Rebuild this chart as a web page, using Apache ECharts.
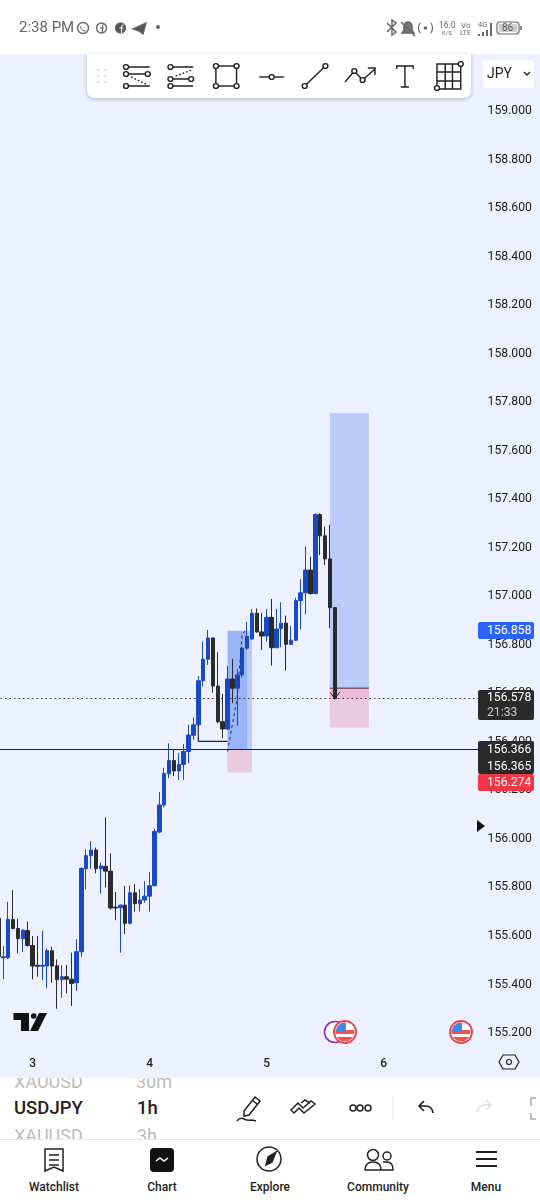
<!DOCTYPE html>
<html><head><meta charset="utf-8">
<style>
html,body{margin:0;padding:0;background:#fff;width:540px;height:1200px;overflow:hidden;font-family:Roboto,sans-serif}
.a{position:absolute}
.t{position:absolute;white-space:nowrap;line-height:1}
#pane{left:0;top:54px;width:540px;height:1024px;background:#edf0fe}
#chart{left:0;top:0;width:540px;height:1200px}
.tag{position:absolute;left:478px;width:47px;padding-left:9px;color:#fff;font-size:12.2px;border-radius:2px}
.nav{position:absolute;top:1181px;font-size:12px;color:#222;font-weight:500;width:70px;text-align:center;line-height:1}
</style></head><body>
<div id="pane" class="a"></div>
<div id="chart" class="a"></div>

<!-- status bar -->
<div class="t" style="left:19px;top:20px;font-size:15px;color:#666">2:38 PM</div>
<svg class="a" style="left:0;top:0" width="540" height="54" fill="none" stroke="#666" stroke-width="1.4">
 <circle cx="83" cy="28" r="5.500"/><path d="M80 26q1 5 6 5" stroke-width="1"/>
 <circle cx="101.500" cy="28" r="5"/><path d="M102.500 33v-7q0-2 2-2M100 28h4" stroke-width="1"/>
 <circle cx="120.500" cy="28" r="5" fill="#555"/><path d="M121.500 33v-6q0-2 2-2M119.500 28h4" stroke="#fff" stroke-width="1"/>
 <path d="M133 29l13-6-3 11-4-3z" fill="#555"/><circle cx="158" cy="27" r="2" fill="#666" stroke="none"/>
 <path d="M387 23l9 9-4 3v-15l4 3-9 9" stroke-width="1.500"/>
 <path d="M402 33h12l-2-3v-4a4 4 0 0 0-8 0v4zM401 22l14 14" stroke-width="1.500" fill="#777"/>
 <path d="M420 23q-3 5 0 10M431 23q3 5 0 10" stroke-width="1.200"/><circle cx="425.500" cy="28" r="1.800" fill="#666" stroke="none"/>
 <path d="M479 36v-2M483 36v-4M487 36v-6M491 36v-13" stroke-width="2"/>
 <rect x="497" y="22" width="22" height="12" rx="3" stroke-width="1.200"/><rect x="499" y="24" width="18" height="8" fill="#ccc" stroke="none"/>
 <path d="M521 26v4" stroke-width="1.500"/>
</svg>
<div class="t" style="left:439px;top:21px;font-size:8.500px;color:#666">16.0</div>
<div class="t" style="left:442px;top:30px;font-size:6px;color:#666">K/S</div>
<div class="t" style="left:461px;top:22px;font-size:8px;color:#666">Vo</div>
<div class="t" style="left:460px;top:30px;font-size:7px;color:#666">LTE</div>
<div class="t" style="left:478px;top:21px;font-size:7.500px;color:#666">4G</div>
<div class="t" style="left:502px;top:23px;font-size:10px;color:#555">86</div>

<!-- drawing toolbar -->
<div class="a" style="left:87px;top:54px;width:384px;height:44px;background:#fff;border-radius:0 0 7px 7px;box-shadow:0 1px 4px rgba(0,0,0,.25)"></div>
<svg class="a" style="left:0;top:50px" width="480" height="50" viewBox="0 50 480 50" fill="none" stroke="#222" stroke-width="1.400">
 <g transform="scale(1.033,1)">
 <g fill="#ccc" stroke="none"><circle cx="95" cy="70" r="1"/><circle cx="102" cy="70" r="1"/><circle cx="95" cy="76" r="1"/><circle cx="102" cy="76" r="1"/><circle cx="95" cy="82" r="1"/><circle cx="102" cy="82" r="1"/></g>
 <path d="M124 67h21M124 74h17M124 86h21"/><path d="M127 77l16 8" stroke-dasharray="1.600 2"/>
 <circle cx="122" cy="67" r="2.400" fill="#fff"/><circle cx="122" cy="74" r="2.400" fill="#fff"/><circle cx="143" cy="74" r="2.400" fill="#fff"/><circle cx="122" cy="86" r="2.400" fill="#fff"/>
 <path d="M167 67h20M167 79h16M167 86h20"/><path d="M170 76l16-6" stroke-dasharray="1.600 2"/>
 <circle cx="165" cy="67" r="2.400" fill="#fff"/><circle cx="165" cy="79" r="2.400" fill="#fff"/><circle cx="185" cy="79" r="2.400" fill="#fff"/><circle cx="165" cy="86" r="2.400" fill="#fff"/>
 <rect x="209" y="66" width="20" height="20"/><circle cx="209" cy="66" r="2.400" fill="#fff"/><circle cx="229" cy="66" r="2.400" fill="#fff"/><circle cx="209" cy="86" r="2.400" fill="#fff"/><circle cx="229" cy="86" r="2.400" fill="#fff"/>
 <path d="M251 77h24"/><circle cx="263" cy="77" r="2.400" fill="#fff"/>
 <path d="M295 86l20-20"/><circle cx="295" cy="86" r="2.400" fill="#fff"/><circle cx="315" cy="66" r="2.400" fill="#fff"/>
 <path d="M334 82l9-11 8 9 12-11M356 68h7v7"/><circle cx="343" cy="71" r="2.400" fill="#fff"/><circle cx="351" cy="80" r="2.400" fill="#fff"/>
 <path d="M384 69v-3h16v3M392 66v21M388 87h8"/>
 <path d="M423 64h23v25h-23zM431 64v25M438 64v25M423 72h23M423 81h23"/><circle cx="446" cy="64" r="2.400" fill="#fff"/><circle cx="423" cy="88" r="2.400" fill="#fff"/>
 </g>
</svg>
<div class="a" style="left:483px;top:60px;width:51px;height:28px;background:#fff;border-radius:3px"></div>
<div class="t" style="left:487px;top:66px;font-size:14px;color:#222">JPY</div>
<svg class="a" style="left:523px;top:71px" width="8" height="6" fill="none" stroke="#222" stroke-width="1.300"><path d="M1 1l3 3 3-3"/></svg>

<!-- price tags -->
<div class="tag" style="top:622px;height:16.500px;line-height:16.500px;background:#2962ff">156.858</div>
<div class="tag" style="top:690px;height:30px;line-height:15px;background:#2a2a2a"><div>156.578</div><div style="color:#ccc">21:33</div></div>
<div class="tag" style="top:741px;height:33px;background:#2a2a2a;line-height:16.500px"><div>156.366</div><div>156.365</div></div>
<div class="tag" style="top:774px;height:17px;line-height:17px;background:#f23645">156.274</div>
<svg class="a" style="left:476px;top:819px" width="10" height="14"><path d="M1 1l8 6-8 6z" fill="#111"/></svg>

<!-- logo, event flags, settings -->
<svg class="a" style="left:0;top:1000px" width="540" height="78" viewBox="0 1000 540 78">
 <path d="M13.500 1013H29v18h-8v-11h-7.500zM30 1031l9-18h8l-9 18z" fill="#111"/><circle cx="33.700" cy="1016" r="2.800" fill="#111"/>
 <circle cx="335" cy="1032" r="10.500" fill="#fff" stroke="#8a2eb0" stroke-width="1.600"/>
 <defs><clipPath id="c1"><circle cx="345" cy="1032" r="9.500"/></clipPath><clipPath id="c2"><circle cx="461" cy="1032" r="9.500"/></clipPath></defs>
 <g><circle cx="345" cy="1032" r="11" fill="#fff" stroke="#e8444e" stroke-width="1.800"/>
  <g clip-path="url(#c1)"><rect x="335" y="1030" width="20" height="4" fill="#ef5350"/><rect x="335" y="1037" width="20" height="4" fill="#ef5350"/><rect x="335" y="1022" width="11" height="10" fill="#3f8ae0"/></g></g>
 <g><circle cx="461" cy="1032" r="11" fill="#fff" stroke="#e8444e" stroke-width="1.800"/>
  <g clip-path="url(#c2)"><rect x="451" y="1030" width="20" height="4" fill="#ef5350"/><rect x="451" y="1037" width="20" height="4" fill="#ef5350"/><rect x="451" y="1022" width="11" height="10" fill="#3f8ae0"/></g></g>
 <path d="M503 1055h12l4 7-4 7h-12l-4-7z" fill="none" stroke="#222" stroke-width="1.200"/><circle cx="509" cy="1062" r="2.500" fill="none" stroke="#222" stroke-width="1.200"/>
</svg>

<!-- symbol bar -->
<div class="a" style="left:0;top:1078px;width:540px;height:122px;background:#fff"></div>
<div class="a" style="left:0;top:1078px;width:230px;height:61px;overflow:hidden">
 <div class="t" style="left:14px;top:-5px;font-size:18px;color:#bbb">XAUUSD</div>
 <div class="t" style="left:136px;top:-5px;font-size:18px;color:#bbb">30m</div>
 <div class="t" style="left:14px;top:21px;font-size:18.500px;color:#222;font-weight:500">USDJPY</div>
 <div class="t" style="left:137px;top:21px;font-size:18.500px;color:#222;font-weight:500">1h</div>
 <div class="t" style="left:14px;top:49px;font-size:18px;color:#bbb">XAUUSD</div>
 <div class="t" style="left:137px;top:49px;font-size:18px;color:#bbb">3h</div>
</div>
<div class="a" style="left:0;top:1139px;width:540px;height:1px;background:#e8e8e8"></div>
<svg class="a" style="left:0;top:1078px" width="540" height="122" viewBox="0 1078 540 122" fill="none" stroke="#222" stroke-width="1.500">
 <path d="M244 1111l11-14 5 4-11 14-5 1zM252 1100l5 4M237 1121q3-4 7-2t8 1l4 1"/>
 <path d="M291 1110l7-7 5 5 8-7 4 3-11 9-5-5-5 5zM301 1103l4-3 5 3"/>
 <circle cx="353" cy="1108" r="3"/><circle cx="360" cy="1108" r="3"/><circle cx="368" cy="1108" r="3"/>
 <path d="M393 1096v24" stroke="#eee"/>
 <path d="M420 1106h6q6 0 7 7M424 1101l-5 5 5 5" stroke-width="1.600"/>
 <path d="M490 1105h-5q-6 0-8 7M486 1100l5 5-5 5" stroke="#ddd"/>
 <path d="M536 1098h-5v8M536 1119h-5v-6" stroke="#aaa"/>
 <!-- nav -->
 <path d="M45 1149h18v22l-9-4-9 4zM49 1155h10M49 1160h10M49 1165h10" stroke-width="1.500"/>
 <rect x="150" y="1148" width="24" height="24" rx="4" fill="#111" stroke="none"/><path d="M156 1161l4-3 4 3 4-3" stroke="#fff"/>
 <circle cx="269" cy="1159" r="12"/><path d="M276 1152l-4 10-6 3 2-8z" fill="#222"/>
 <circle cx="373" cy="1155" r="5.500"/><circle cx="387" cy="1156" r="4"/><path d="M365 1170q0-8 8-8t8 8zM383 1162h4q6 0 6 8h-12"/>
 <path d="M476 1152h21M476 1159h21M476 1166h21" stroke-width="2"/>
</svg>
<div class="nav" style="left:19px">Watchlist</div>
<div class="nav" style="left:127px">Chart</div>
<div class="nav" style="left:235px">Explore</div>
<div class="nav" style="left:343px">Community</div>
<div class="nav" style="left:451px">Menu</div>

<script src="https://cdn.jsdelivr.net/npm/echarts@6/dist/echarts.min.js"></script>
<script>
const dayLabels = {7:'3', 31:'4', 55:'5', 79:'6'};
const slotCount = 99;
const opens  = [155.672,155.510,155.510,155.668,155.631,155.589,155.622,155.561,155.479,155.475,
  155.476,155.539,155.477,155.420,155.432,155.422,155.407,155.535,155.877,155.931,
  155.954,155.877,155.887,155.867,155.719,155.716,155.727,155.652,155.778,155.733,
  155.748,155.764,155.807,156.028,156.140,156.268,156.323,156.280,156.307,156.360,
  156.427,156.470,156.652,156.740,156.828,156.630,156.483,156.453,156.659,156.621,
  156.676,156.786,156.824,156.930,156.853,156.836,156.913,156.788,156.867,156.889,
  156.802,156.819,156.982,157.014,157.108,157.011,157.337,157.249,157.154,156.953];
const closes = [155.514,155.514,155.668,155.631,155.589,155.624,155.561,155.476,155.475,155.479,
  155.539,155.476,155.420,155.432,155.422,155.404,155.535,155.878,155.931,155.954,
  155.877,155.888,155.867,155.715,155.715,155.727,155.652,155.778,155.733,155.748,
  155.764,155.807,156.031,156.140,156.270,156.323,156.280,156.307,156.360,156.428,
  156.470,156.652,156.740,156.828,156.630,156.483,156.453,156.659,156.621,156.676,
  156.786,156.834,156.930,156.853,156.836,156.913,156.788,156.865,156.889,156.802,
  156.819,156.982,157.014,157.108,157.011,157.337,157.249,157.154,156.953,156.578];
const lows   = [155.501,155.421,155.505,155.627,155.528,155.534,155.556,155.421,155.432,155.418,
  155.384,155.407,155.300,155.345,155.363,155.311,155.374,155.514,155.792,155.877,
  155.858,155.775,155.800,155.709,155.665,155.531,155.608,155.648,155.700,155.700,
  155.737,155.700,155.805,156.023,156.130,156.250,156.259,156.243,156.243,156.312,
  156.408,156.463,156.628,156.717,156.603,156.476,156.415,156.449,156.559,156.465,
  156.666,156.779,156.820,156.850,156.779,156.813,156.714,156.786,156.790,156.694,
  156.799,156.816,156.864,156.926,157.008,157.008,157.170,157.129,156.868,156.575];
const highs  = [155.672,155.558,155.741,155.789,155.672,155.627,155.659,155.600,155.600,155.622,
  155.547,155.556,155.503,155.480,155.480,155.531,155.586,155.883,155.957,155.990,
  155.964,155.902,156.089,155.940,155.781,155.730,155.806,155.808,155.814,155.792,
  155.826,155.863,156.042,156.193,156.293,156.394,156.369,156.355,156.391,156.470,
  156.501,156.671,156.813,156.861,156.830,156.769,156.597,156.713,156.742,156.699,
  156.790,156.895,156.948,156.950,156.930,156.948,156.989,156.948,156.975,156.920,
  156.878,156.994,157.070,157.205,157.163,157.342,157.342,157.287,157.294,156.955];
const currentPrice = 156.578;
const levelPrice = 156.366;
const longA = {from:47, to:51, target:156.858, entry:156.370, stop:156.274};
const longA2 = {from:51, to:52, target:156.858, entry:156.370, stop:156.274};
const longB = {from:68, to:76, target:157.755, entry:156.621, stop:156.459};
const bracket = [[41,156.469],[41,156.402],[47,156.402]];
const dashedPath = [[47,156.360],[49,156.586],[50,156.847],[51,156.861]];
const arrowHead = [[68,156.605],[69,156.578],[70,156.605]];
const entryLine = [[68,156.621],[76,156.621]];

const categories = Array.from({length:slotCount},(_,i)=>dayLabels[i]||'');
const candles = opens.map((o,i)=>[o,closes[i],lows[i],highs[i]]);
const BLUE='#1a49c6', DARK='#2b2b2b';
const area=(x0,x1,y0,y1,color)=>[{xAxis:x0,yAxis:y0,itemStyle:{color}},{xAxis:x1,yAxis:y1}];
const lineS=(data,color,width,type,z)=>({type:'line',data,showSymbol:false,symbol:'none',silent:true,z,animation:false,
  lineStyle:{color,width,type}});

const chart=echarts.init(document.getElementById('chart'),null,{width:540,height:1200});
chart.setOption({
  animation:false,
  backgroundColor:'transparent',
  grid:{left:-4,width:482.6,top:111,height:922,containLabel:false,outerBoundsMode:'none'},
  xAxis:{type:'category',data:categories,boundaryGap:true,
    axisLine:{show:false},axisTick:{show:false},splitLine:{show:false},
    axisLabel:{interval:(i)=>!!dayLabels[i],margin:25,fontFamily:'Roboto',fontSize:12,fontWeight:500,color:'#222'}},
  yAxis:{type:'value',position:'right',min:155.2,max:159,interval:0.2,
    axisLine:{show:false},axisTick:{show:false},splitLine:{show:false},
    axisLabel:{margin:9,fontFamily:'Roboto',fontSize:12.2,color:'#222',formatter:v=>v.toFixed(3)}},
  series:[
    {type:'candlestick',data:candles,barWidth:4,z:5,silent:true,
     itemStyle:{color:BLUE,color0:DARK,borderColor:BLUE,borderColor0:DARK,borderWidth:1},
     markArea:{silent:true,z:1,data:[
       area(longA.from,longA.to,longA.target,longA.entry,'rgba(110,150,245,.66)'),
       area(longA2.from,longA2.to,longA2.target,longA2.entry,'rgba(125,160,248,.45)'),
       area(longA.from,longA2.to,longA.entry,longA.stop,'rgba(232,180,200,.62)'),
       area(longB.from,longB.to,longB.target,longB.entry,'rgba(125,160,248,.45)'),
       area(longB.from,longB.to,longB.entry,currentPrice,'rgba(236,150,185,.6)'),
       area(longB.from,longB.to,currentPrice,longB.stop,'rgba(232,180,200,.62)')
     ]},
     markLine:{silent:true,symbol:'none',z:3,label:{show:false},data:[
       {yAxis:currentPrice,lineStyle:{color:'#333',width:1,type:[1.5,3]}},
       {yAxis:levelPrice,lineStyle:{color:'#222',width:1,type:'solid'}}
     ]}},
    lineS(bracket,'#23273a',1.2,'solid',6),
    lineS(dashedPath,'#1a2f7a',1,[3,3],6),
    lineS(arrowHead,'#222',1,'solid',6),
    lineS(entryLine,'#7a5570',1.5,'solid',4)
  ]
});
</script>
</body></html>
